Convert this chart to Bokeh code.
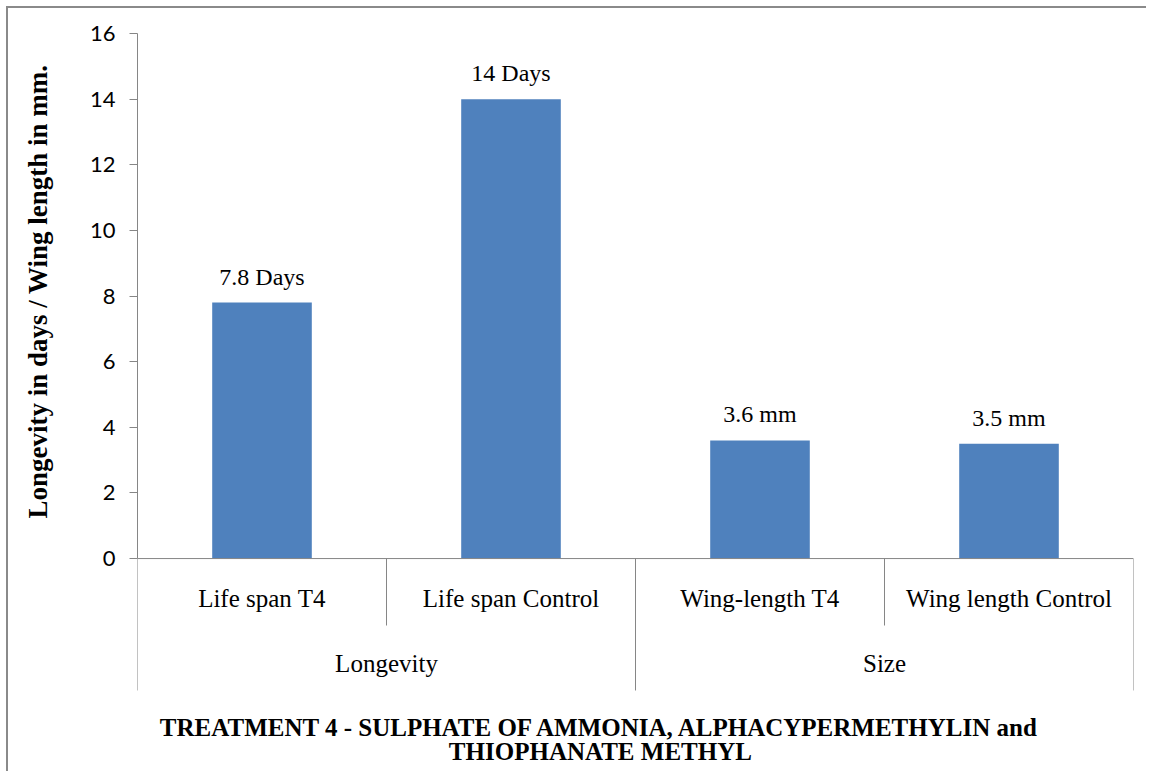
from bokeh.plotting import figure
from bokeh.models import FactorRange, ColumnDataSource, FixedTicker, Label, Range1d, Title
from bokeh.embed import file_html
from bokeh.resources import INLINE
from bokeh.core.properties import value

groups = ["Longevity", "Longevity", "Size", "Size"]
categories = ["Life span T4", "Life span Control", "Wing-length T4", "Wing length Control"]
values = [7.8, 14.0, 3.6, 3.5]
bar_labels = ["7.8 Days", "14 Days", "3.6 mm", "3.5 mm"]
y_ticks = [0, 2, 4, 6, 8, 10, 12, 14, 16]
y_title = "Longevity in days / Wing length in mm."
x_title_lines = ["TREATMENT 4 - SULPHATE OF AMMONIA, ALPHACYPERMETHYLIN and",
                 "THIOPHANATE METHYL"]

factors = list(zip(groups, categories))
group_names = ["Longevity", "Size"]

SERIF = "Liberation Serif"
SANS = "Lato"
GRAY = "#868686"

W, H = 1140, 765
p = figure(
    x_range=FactorRange(*factors, range_padding=0, factor_padding=0,
                        group_padding=0, subgroup_padding=0),
    y_range=Range1d(-6.55, 16),
    width=W, height=H, output_backend="svg", toolbar_location=None,
    x_axis_location=None,
    min_border_left=129, min_border_right=15, min_border_top=25, min_border_bottom=0,
)
p.outline_line_color = None
p.xgrid.visible = False
p.ygrid.visible = False
p.background_fill_color = "white"
p.border_fill_color = "white"
p.styles = {"border-left": "2px solid #8a8a8a", "border-top": "2px solid #8a8a8a",
            "margin-left": "6px", "margin-top": "6px"}

ya = p.yaxis[0]
ya.bounds = (0, 16)
ya.ticker = FixedTicker(ticks=y_ticks)
ya.minor_tick_line_color = None
ya.major_tick_in = 0
ya.major_tick_out = 8
ya.axis_line_color = GRAY
ya.major_tick_line_color = GRAY
ya.major_label_text_font = SANS
ya.major_label_text_font_size = "22px"
ya.major_label_text_color = "black"
ya.major_label_standoff = 14

# spacer between tick labels and the y axis title
p.add_layout(Title(text=" ", text_font_size="16px"), "left")
# y axis title, aligned with the 0-16 part of the axis
p.add_layout(Title(text=y_title, align="left", offset=255, text_font=SERIF,
                   text_font_style="bold", text_font_size="27px", text_color="black"), "left")

src = ColumnDataSource(dict(x=factors, v=values, lab=bar_labels))
p.vbar(x="x", top="v", width=0.4, source=src, fill_color="#4F81BD", line_color=None)
p.text(x="x", y="v", text="lab", source=src, text_align="center", text_baseline="alphabetic",
       y_offset=-26, text_font=value(SERIF), text_font_size="24px", text_color="black")

# baseline at zero
p.segment(x0=[(groups[0], categories[0], -0.5)], y0=[0],
          x1=[(groups[-1], categories[-1], 0.5)], y1=[0], line_color=GRAY, line_width=1)

# category separators
inner = [(groups[0], categories[0], 0.5), (groups[2], categories[2], 0.5)]
outer = [(groups[0], categories[0], -0.5), (groups[1], categories[1], 0.5),
         (groups[3], categories[3], 0.5)]
p.segment(x0=inner, y0=[0] * len(inner), x1=inner, y1=[-2.04] * len(inner),
          line_color=GRAY, line_width=1)
p.segment(x0=outer, y0=[0] * len(outer), x1=outer, y1=[-4.02] * len(outer),
          line_color=GRAY, line_width=1)

# category labels
p.text(x=factors, y=[-1.22] * len(factors), text=categories, text_align="center",
       text_baseline="middle", text_font=value(SERIF), text_font_size="25px",
       text_color="black")
p.text(x=group_names, y=[-3.2] * len(group_names), text=group_names, text_align="center",
       text_baseline="middle", text_font=value(SERIF), text_font_size="25px",
       text_color="black")

# bottom title
for i, line in enumerate(x_title_lines):
    p.add_layout(Label(x=1.859, y=-5.15 - 0.74 * i, text=line, text_align="center",
                       text_baseline="middle", text_font=SERIF, text_font_style="bold",
                       text_font_size="25px", text_color="black"))

open("out.html", "w").write(file_html(p, INLINE))
